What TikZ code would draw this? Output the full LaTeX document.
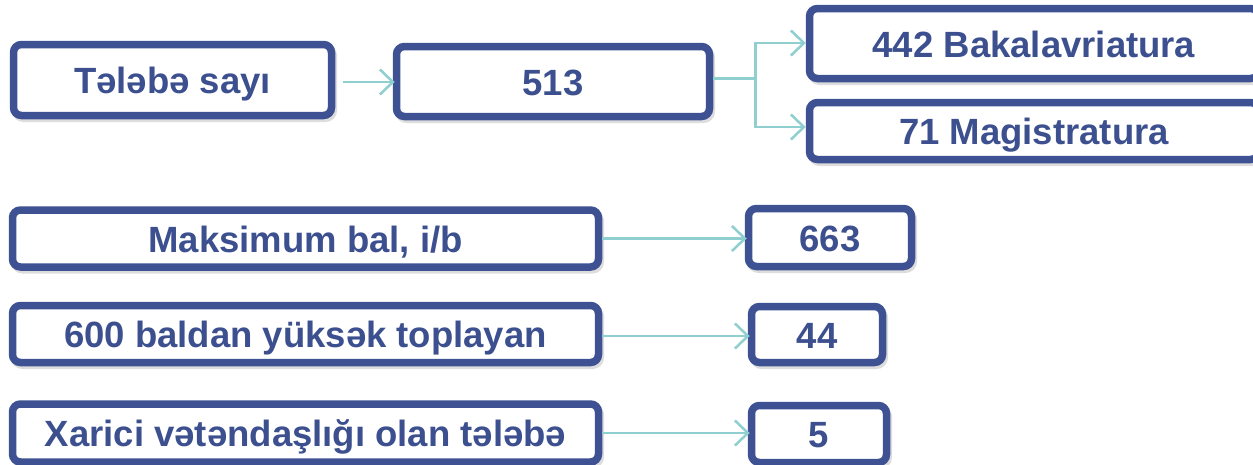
\documentclass[tikz,border=0pt]{standalone}
\usepackage{fontspec}
\setmainfont{Liberation Sans}
\usetikzlibrary{arrows.meta,shadows,calc}
\definecolor{boxblue}{RGB}{62,82,147}
\definecolor{txtblue}{RGB}{60,79,142}
\definecolor{arrteal}{RGB}{143,207,207}
\tikzset{
  box/.style={draw=boxblue, line width=7.5pt, rounded corners=8pt, fill=white,
    text=txtblue, font=\fontsize{36.5}{40}\selectfont\bfseries, inner sep=0pt,
    text height=27.5pt, text depth=0pt,
    drop shadow={shadow xshift=2pt, shadow yshift=-3pt, opacity=0.22,
      fill=black!60, draw=black!60, line width=7pt}},
  arr/.style={draw=arrteal, line width=2.5pt, -{Straight Barb[length=13pt,width=25pt,line width=2.5pt]}},
  link/.style={draw=arrteal, line width=3.5pt}
}
\begin{document}
\begin{tikzpicture}[x=1pt,y=-1pt]
\useasboundingbox (0,0) rectangle (1253,464);
\fill[white] (0,0) rectangle (1253,464);
% top row
\node[box, minimum width=318pt, minimum height=71pt] (A) at (172.5,80) {Tələbə sayı};
\node[box, minimum width=313pt, minimum height=70pt] (B) at (553,81.5) {513};
\node[box, minimum width=449pt, minimum height=70pt] (C) at (1034,43.5) {442 Bakalavriatura};
\node[box, minimum width=449pt, minimum height=57pt] (D) at (1034,131) {71 Magistratura};
% rows
\node[box, minimum width=586pt, minimum height=57pt] (E) at (305.5,238.5) {Maksimum bal, i/b};
\node[box, minimum width=163pt, minimum height=58pt] (F) at (830,237.5) {663};
\node[box, minimum width=586pt, minimum height=57pt] (G) at (305.5,334) {600 baldan yüksək toplayan};
\node[box, minimum width=131pt, minimum height=56pt] (H) at (817,334.5) {44};
\node[box, minimum width=586pt, minimum height=58pt] (I) at (305.5,433) {Xarici vətəndaşlığı olan tələbə};
\node[box, minimum width=135pt, minimum height=57pt] (J) at (819,434) {5};
% connectors
\coordinate (a1) at ($(A.east)+(8,2)$);
\draw[arr, shorten >=-2pt] (a1) -- (a1 -| B.west);
\coordinate (b1) at ($(B.east)+(0,-3)$);
\coordinate (j) at ($(B.east)+(42,-3)$);
\draw[link] (b1) -- (j);
\coordinate (c1) at ($(C.west)+(0,-0.5)$);
\coordinate (d1) at ($(D.west)+(0,-4)$);
\draw[arr] (j) |- (c1);
\draw[arr] (j) |- (d1);
\draw[arr, shorten >=-2pt] (E.east) -- (E.east -| F.west);
\coordinate (g1) at ($(G.east)+(0,2)$);
\draw[arr, shorten >=-2pt] (g1) -- (g1 -| H.west);
\draw[arr, shorten >=-2pt] (I.east) -- (I.east -| J.west);
\end{tikzpicture}
\end{document}
